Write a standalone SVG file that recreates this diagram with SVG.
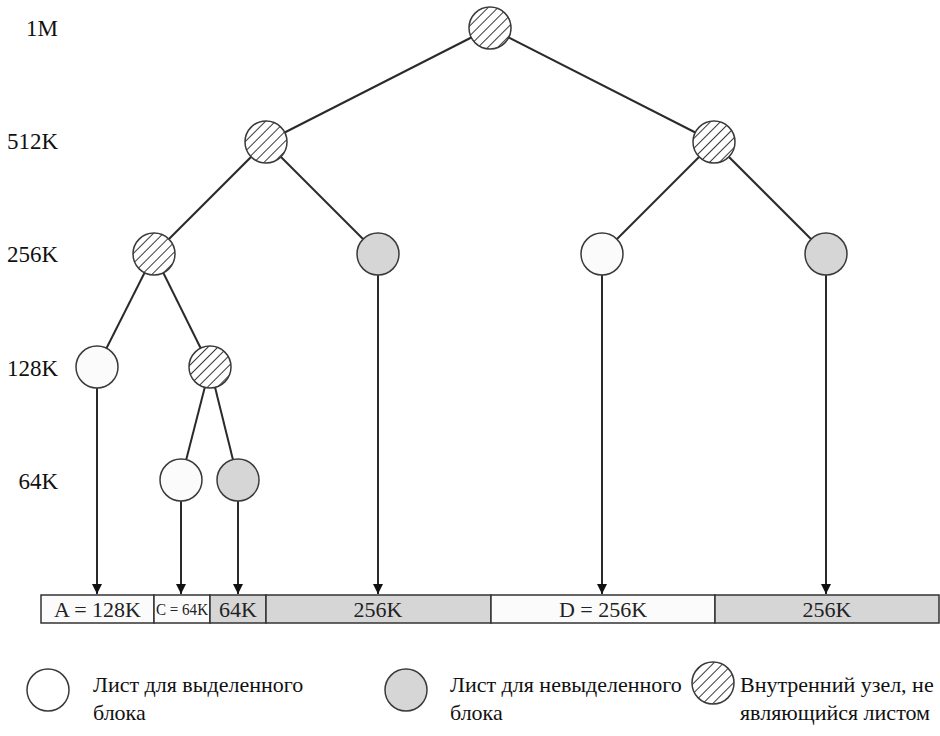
<svg xmlns="http://www.w3.org/2000/svg" width="940" height="736" viewBox="0 0 940 736">
<style>
  text{font-family:"Liberation Serif","DejaVu Serif",serif}
  .lvl{font-size:23px;fill:#111;text-anchor:end}
  .bar{font-size:22px;fill:#222;text-anchor:middle}
  .leg{font-size:22px;fill:#111}
  .edge{stroke:#2a2a2a;stroke-width:2;fill:none}
  .arr{stroke:#2a2a2a;stroke-width:2;fill:none;marker-end:url(#ah)}
  .n{stroke:#3a3a3a;stroke-width:1.5}
  .free{fill:#fbfbfb}
  .unal{fill:#d6d6d6}
  .int{fill:url(#hatch)}
  .cell{stroke:#333;stroke-width:1.5}
</style>
<defs>
  <pattern id="hatch" patternUnits="userSpaceOnUse" width="7" height="7" patternTransform="rotate(45)">
    <rect width="7" height="7" fill="#ffffff"/>
    <line x1="0" y1="0" x2="0" y2="7" stroke="#222" stroke-width="1.8"/>
  </pattern>
  <marker id="ah" viewBox="0 0 10 10" refX="10" refY="5" markerWidth="10" markerHeight="12" markerUnits="userSpaceOnUse" orient="auto">
    <path d="M0,0 L10,5 L0,10 z" fill="#111"/>
  </marker>
</defs>

<g id="levels">
  <text class="lvl" x="58" y="36">1M</text>
  <text class="lvl" x="58" y="149">512K</text>
  <text class="lvl" x="58" y="262">256K</text>
  <text class="lvl" x="58" y="376">128K</text>
  <text class="lvl" x="58" y="489">64K</text>
</g>

<g id="connectors">
  <line class="edge" x1="490" y1="28" x2="266" y2="142"/>
  <line class="edge" x1="490" y1="28" x2="714" y2="142"/>
  <line class="edge" x1="266" y1="142" x2="154" y2="254"/>
  <line class="edge" x1="266" y1="142" x2="378" y2="254"/>
  <line class="edge" x1="714" y1="142" x2="602" y2="254"/>
  <line class="edge" x1="714" y1="142" x2="826" y2="254"/>
  <line class="edge" x1="154" y1="254" x2="97" y2="367"/>
  <line class="edge" x1="154" y1="254" x2="210" y2="367"/>
  <line class="edge" x1="210" y1="367" x2="181" y2="480"/>
  <line class="edge" x1="210" y1="367" x2="238" y2="480"/>
  <line class="arr" x1="97" y1="388" x2="97" y2="594"/>
  <line class="arr" x1="181" y1="501" x2="181" y2="594"/>
  <line class="arr" x1="238" y1="501" x2="238" y2="594"/>
  <line class="arr" x1="378" y1="275" x2="378" y2="594"/>
  <line class="arr" x1="602" y1="275" x2="602" y2="594"/>
  <line class="arr" x1="826" y1="275" x2="826" y2="594"/>
</g>

<g id="n-root"><circle class="n int" cx="490" cy="28" r="21"/></g>
<g id="n-512-l"><circle class="n int" cx="266" cy="142" r="21"/></g>
<g id="n-512-r"><circle class="n int" cx="714" cy="142" r="21"/></g>
<g id="n-256-1"><circle class="n int" cx="154" cy="254" r="21"/></g>
<g id="n-256-2"><circle class="n unal" cx="378" cy="254" r="21"/></g>
<g id="n-256-3"><circle class="n free" cx="602" cy="254" r="21"/></g>
<g id="n-256-4"><circle class="n unal" cx="826" cy="254" r="21"/></g>
<g id="n-128-1"><circle class="n free" cx="97" cy="367" r="21"/></g>
<g id="n-128-2"><circle class="n int" cx="210" cy="367" r="21"/></g>
<g id="n-64-1"><circle class="n free" cx="181" cy="480" r="21"/></g>
<g id="n-64-2"><circle class="n unal" cx="238" cy="480" r="21"/></g>

<g id="memory">
  <rect class="cell free" x="41" y="595" width="113" height="28"/>
  <rect class="cell free" x="154" y="595" width="56" height="28"/>
  <rect class="cell unal" x="210" y="595" width="56" height="28"/>
  <rect class="cell unal" x="266" y="595" width="225" height="28"/>
  <rect class="cell free" x="491" y="595" width="224" height="28"/>
  <rect class="cell unal" x="715" y="595" width="224" height="28"/>
  <text class="bar" x="97.5" y="617">A = 128K</text>
  <text class="bar" x="182" y="615" style="font-size:16px" textLength="52" lengthAdjust="spacingAndGlyphs">C = 64K</text>
  <text class="bar" x="238" y="617">64K</text>
  <text class="bar" x="378" y="617">256K</text>
  <text class="bar" x="603" y="617">D = 256K</text>
  <text class="bar" x="827" y="617">256K</text>
</g>

<g id="legend">
  <circle class="n" cx="48" cy="690" r="21" fill="#ffffff"/>
  <text class="leg" x="93" y="692">Лист для выделенного</text>
  <text class="leg" x="93" y="720">блока</text>
  <circle class="n unal" cx="406" cy="690" r="21"/>
  <text class="leg" x="450" y="692">Лист для невыделенного</text>
  <text class="leg" x="450" y="720">блока</text>
  <circle class="n int" cx="713" cy="683" r="21"/>
  <text class="leg" x="740" y="692">Внутренний узел, не</text>
  <text class="leg" x="740" y="720">являющийся листом</text>
</g>
</svg>
